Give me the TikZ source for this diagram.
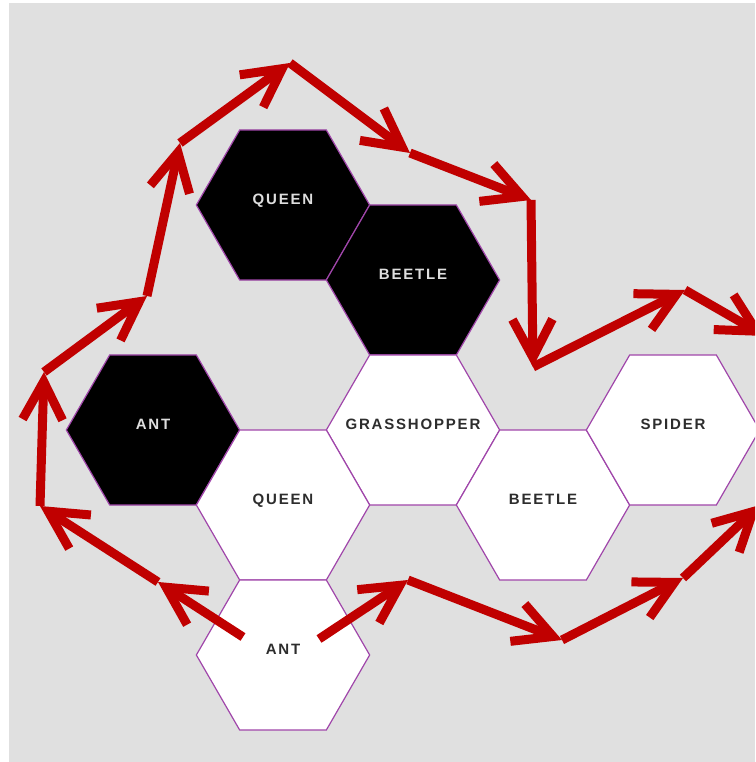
\documentclass[tikz,border=0pt]{standalone}
\usepackage{fontspec}
\setmainfont{Liberation Sans}
\newfontfamily\piecefont[LetterSpace=12]{Liberation Sans}
\usetikzlibrary{shapes.geometric,arrows.meta}

\definecolor{boardgray}{RGB}{224,224,224}
\definecolor{movered}{RGB}{192,0,0}
\definecolor{hexpurple}{RGB}{160,70,170}
\definecolor{lightlabel}{RGB}{222,222,222}
\definecolor{darklabel}{RGB}{45,45,45}

\begin{document}
\begin{tikzpicture}[x=1pt,y=1pt,
	hex/.style={regular polygon,regular polygon sides=6,minimum size=173.3pt,inner sep=0pt,outer sep=0pt,draw=hexpurple,line width=1.2pt},
	piece/.style={inner sep=0pt,font=\piecefont\bfseries\fontsize{15pt}{15pt}\selectfont,text height=11pt,text depth=12pt},
	blackhex/.style={hex,fill=black,label={[piece,text=lightlabel]center:#1}},
	whitehex/.style={hex,fill=white,label={[piece,text=darklabel]center:#1}},
	move/.style={draw=movered,line width=9pt,-{Straight Barb[length=38pt,width=40pt]}}]

	\clip (0,0) rectangle (755,762);
	\fill[white] (0,0) rectangle (755,762);
	\fill[boardgray] (9,0) rectangle (755,759);

	% pieces on the board
	\node[blackhex=QUEEN] (queenb) at (283,557) {};
	\node[blackhex=BEETLE] (beetleb) at (413,482) {};
	\node[blackhex=ANT] (antb) at (153,332) {};
	\node[whitehex=GRASSHOPPER] (grass) at (413,332) {};
	\node[whitehex=QUEEN] (queenw) at (283,257) {};
	\node[whitehex=BEETLE] (beetlew) at (543,257) {};
	\node[whitehex=SPIDER] (spider) at (673,332) {};
	\node[whitehex=ANT] (antw) at (283,107) {};

	% ant moves round the hive
	\coordinate (l0) at (243,125);
	\coordinate (l1) at (158,180);
	\coordinate (l2) at (40,256);
	\coordinate (l3) at (44,390);
	\coordinate (l4) at (147,466);
	\coordinate (l5) at (180,619);
	\coordinate (l6) at (290,699);
	\coordinate (l7) at (410,609);
	\coordinate (l8) at (531,562);
	\coordinate (l9) at (533,395);
	\coordinate (l10) at (685,472);
	\coordinate (l11) at (765,426);

	\coordinate (r0) at (319,123);
	\coordinate (r1) at (408,182);
	\coordinate (r2) at (562,122);
	\coordinate (r3) at (683,184);
	\coordinate (r4) at (760,257);

	\foreach \a/\b in {l0/l1,l1/l2,l2/l3,l3/l4,l4/l5,l5/l6,l6/l7,l7/l8,l8/l9,l9/l10,l10/l11,r0/r1,r1/r2,r2/r3,r3/r4}
		\draw[move] (\a) -- (\b);

\end{tikzpicture}
\end{document}
